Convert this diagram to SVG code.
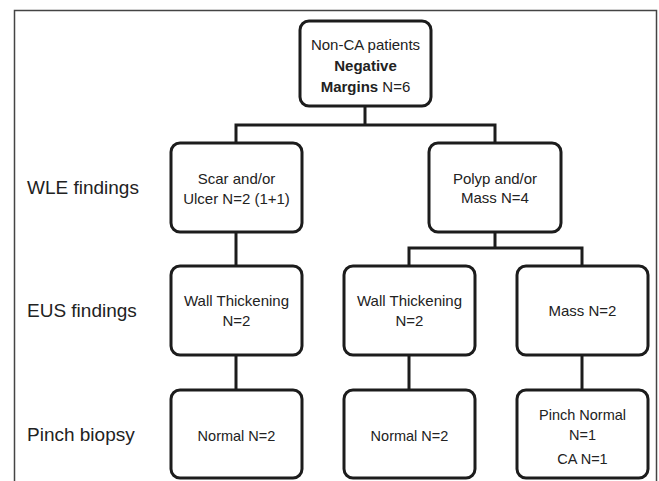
<svg xmlns="http://www.w3.org/2000/svg" width="659" height="481" viewBox="0 0 659 481">
<style>
.box{fill:#fff;stroke:#1c1c1c;stroke-width:3}
.con{fill:none;stroke:#1c1c1c;stroke-width:3}
.t{font-family:"Liberation Sans",Arial,sans-serif;font-size:15px;fill:#222;text-anchor:middle}
.s{font-size:14.5px}
.lab{font-family:"Liberation Sans",Arial,sans-serif;font-size:19px;fill:#222}
.b{font-weight:bold}
</style>
<rect x="14.5" y="10.5" width="642" height="500" fill="#fff" stroke="#444" stroke-width="1.5"/>
<g id="connectors">
<path class="con" d="M365 106V125M236 143V125H495V143"/>
<path class="con" d="M236 232V266"/>
<path class="con" d="M495 232V248M409 266V248H582V266"/>
<path class="con" d="M236 355V390M409 355V390M582 355V390"/>
</g>
<g id="labels">
<text class="lab" x="27" y="194">WLE findings</text>
<text class="lab" x="27" y="317">EUS findings</text>
<text class="lab" x="27" y="441">Pinch biopsy</text>
</g>
<g id="root">
<rect class="box" x="300" y="21" width="131" height="85" rx="9"/>
<text class="t" x="365.5" y="50">Non-CA patients</text>
<text class="t b" x="365.5" y="71">Negative</text>
<text class="t" x="365.5" y="92"><tspan class="b">Margins</tspan> N=6</text>
</g>
<g id="wle-scar">
<rect class="box" x="171" y="143" width="131" height="89" rx="9"/>
<text class="t" x="236.5" y="184">Scar and/or</text>
<text class="t" x="236.5" y="204">Ulcer N=2 (1+1)</text>
</g>
<g id="wle-polyp">
<rect class="box" x="429" y="143" width="132" height="89" rx="9"/>
<text class="t" x="495" y="184">Polyp and/or</text>
<text class="t" x="495" y="203">Mass N=4</text>
</g>
<g id="eus-1">
<rect class="box" x="171" y="266" width="131" height="89" rx="9"/>
<text class="t" x="236.5" y="306">Wall Thickening</text>
<text class="t" x="236.5" y="326">N=2</text>
</g>
<g id="eus-2">
<rect class="box" x="344" y="266" width="131" height="89" rx="9"/>
<text class="t" x="409.5" y="306">Wall Thickening</text>
<text class="t" x="409.5" y="326">N=2</text>
</g>
<g id="eus-3">
<rect class="box" x="517" y="266" width="131" height="89" rx="9"/>
<text class="t" x="582.5" y="316">Mass N=2</text>
</g>
<g id="pinch-1">
<rect class="box" x="171" y="390" width="131" height="88" rx="9"/>
<text class="t s" x="236.5" y="441">Normal N=2</text>
</g>
<g id="pinch-2">
<rect class="box" x="344" y="390" width="131" height="88" rx="9"/>
<text class="t s" x="409.5" y="441">Normal N=2</text>
</g>
<g id="pinch-3">
<rect class="box" x="517" y="390" width="131" height="88" rx="9"/>
<text class="t s" x="582.5" y="420">Pinch Normal</text>
<text class="t s" x="582.5" y="440">N=1</text>
<text class="t s" x="582.5" y="464">CA N=1</text>
</g>
</svg>
